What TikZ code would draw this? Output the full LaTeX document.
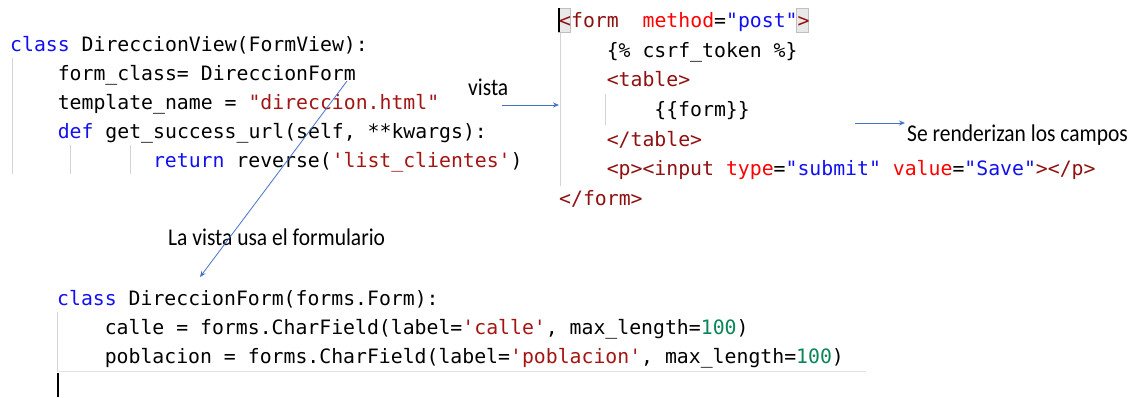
\documentclass[tikz,border=0pt]{standalone}
\usepackage{fontspec}
\setmonofont{DejaVu Sans Mono}
\newfontfamily\labelfont{Carlito}
\usetikzlibrary{arrows.meta}
\definecolor{kw}{HTML}{1010F0}
\definecolor{strc}{HTML}{A31515}
\definecolor{numc}{HTML}{098658}
\definecolor{tagc}{HTML}{8E1010}
\definecolor{attrc}{HTML}{FF0000}
\definecolor{valc}{HTML}{1010F0}
\definecolor{guide}{HTML}{D4D4D4}
\definecolor{arrowc}{HTML}{4472C4}
\newcommand{\tall}[1]{\scalebox{1}[1.12]{#1}}
\tikzset{
  code/.style={anchor=base west, inner sep=0pt, font=\fontsize{19.8pt}{24pt}\selectfont\ttfamily},
  note/.style={anchor=base west, inner sep=0pt, font=\fontsize{21.5pt}{25pt}\selectfont\labelfont},
  guideline/.style={draw=guide, line width=0.9pt},
  cursor/.style={draw=black, line width=1.8pt},
  link/.style={draw=arrowc, line width=0.8pt, -{Stealth[length=6pt,width=5pt]}},
  bracket/.style={fill=black!9, draw=black!25, line width=0.5pt}
}
\begin{document}
\begin{tikzpicture}[x=1pt, y=-1pt]
\useasboundingbox (0,0) rectangle (1137,397);

% ---- view class ----
\draw[guideline] (12,58) -- (12,174);
\draw[guideline] (70,145) -- (70,174);
\draw[guideline] (130,145) -- (130,174);
\node[code] (v1) at (10,51)   {\textcolor{kw}{class} DireccionView(FormView):};
\node[code] (v2) at (57.6,80) {form\_class= DireccionForm};
\node[code] (v3) at (57.6,109){template\_name = \textcolor{strc}{"direccion.html"}};
\node[code] (v4) at (57.6,138){\textcolor{kw}{def} get\_success\_url(self, **kwargs):};
\node[code] (v5) at (152.8,167){\textcolor{kw}{return} reverse(\textcolor{strc}{'list\_clientes'})};

% ---- template ----
\draw[guideline] (560,33) -- (560,186);
\draw[guideline] (605,94) -- (605,125);
\fill[bracket] (558.5,8) rectangle (570,32);
\fill[bracket] (796.5,8) rectangle (808,32);
\draw[cursor] (559,8) -- (559,32);
\node[code] (t1) at (559,27)   {\textcolor{tagc}{<form}~~\textcolor{attrc}{method}=\textcolor{valc}{"post"}\textcolor{tagc}{>}};
\node[code] (t2) at (606.6,57) {\{\% csrf\_token \%\}};
\node[code] (t3) at (606.6,86) {\textcolor{tagc}{<table>}};
\node[code] (t4) at (654.2,116){\{\{form\}\}};
\node[code] (t5) at (606.6,146){\textcolor{tagc}{</table>}};
\node[code] (t6) at (606.6,175){\textcolor{tagc}{<p><input} \textcolor{attrc}{type}=\textcolor{valc}{"submit"} \textcolor{attrc}{value}=\textcolor{valc}{"Save"}\textcolor{tagc}{></p>}};
\node[code] (t7) at (559,205)  {\textcolor{tagc}{</form>}};

% ---- form class ----
\draw[guideline] (57,312) -- (57,371);
\draw[draw=black!12, line width=0.9pt] (57,371.5) -- (866,371.5);
\draw[cursor] (58,373) -- (58,397);
\node[code] (f1) at (57,305)    {\textcolor{kw}{class} DireccionForm(forms.Form):};
\node[code] (f2) at (104.6,334) {calle = forms.CharField(label=\textcolor{strc}{'calle'}, max\_length=\textcolor{numc}{100})};
\node[code] (f3) at (104.6,363) {poblacion = forms.CharField(label=\textcolor{strc}{'poblacion'}, max\_length=\textcolor{numc}{100})};

% ---- notes and arrows ----
\node[note] (nvista) at (468,95)  {\tall{vista}};
\node[note] (nrender) at (907,141) {\tall{Se renderizan los campos}};
\node[note] (nusa) at (168,245)   {\tall{La vista usa el formulario}};

\coordinate (vistaFrom) at (502,105);
\coordinate (vistaTo) at (559,105);
\coordinate (renderFrom) at (855,123);
\coordinate (renderTo) at (905,123);
\coordinate (usaFrom) at (347,81);
\coordinate (usaTo) at (200,277);

\draw[link] (vistaFrom) -- (vistaTo);
\draw[link] (renderFrom) -- (renderTo);
\draw[link] (usaFrom) -- (usaTo);
\end{tikzpicture}
\end{document}
